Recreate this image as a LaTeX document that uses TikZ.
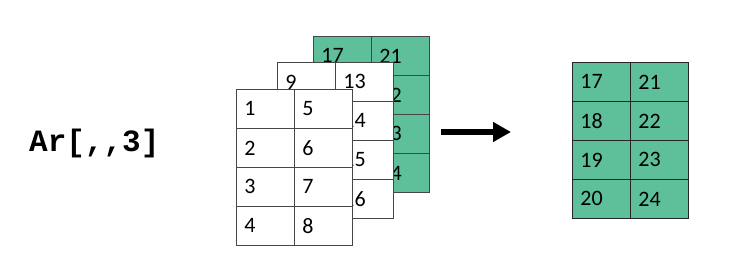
\documentclass[tikz,border=0pt]{standalone}
\usepackage{fontspec}
\setmainfont{Carlito}
\newfontfamily\monofnt{Liberation Mono}
\usetikzlibrary{arrows.meta}
\definecolor{tealgreen}{RGB}{94,191,155}
\definecolor{gridgray}{RGB}{70,70,70}
\tikzset{
  cell/.style={draw=gridgray, line width=0.8pt, anchor=north west,
    text width=42pt, inner xsep=8pt, inner ysep=0pt, minimum height=39pt,
    align=left, font=\fontsize{22}{24}\selectfont},
  whitecell/.style={fill=white},
  greencell/.style={fill=tealgreen},
  rightcell/.style={fill=tealgreen, draw=black!85},
  bigarrow/.style={line width=6pt, -{Triangle[length=18pt,width=19pt]}},
  label/.style={font=\monofnt\bfseries\fontsize{31}{33}\selectfont, anchor=base west, inner sep=0pt}
}
\newcommand\mygrid[5]{%
  \foreach \c in {0,1}{\foreach \r in {0,...,3}{
    \pgfmathtruncatemacro\n{#5+\c*4+\r}
    \node[cell,#4] (#1\c\r) at (#2+\c*58, #3-\r*39) {\n};
  }}}
\begin{document}
\begin{tikzpicture}[x=1pt,y=1pt]
\useasboundingbox (0,0) rectangle (737,256);
\node[label] (lbl) at (29,104) {Ar[,,3]};
\mygrid{b}{313}{220}{greencell}{17}
\mygrid{m}{277}{194}{whitecell}{9}
\mygrid{f}{236}{167}{whitecell}{1}
\mygrid{r}{572}{194}{rightcell}{17}
\coordinate (as) at (441,124);
\coordinate (ae) at (511,124);
\draw[bigarrow] (as) -- (ae);
\end{tikzpicture}
\end{document}
